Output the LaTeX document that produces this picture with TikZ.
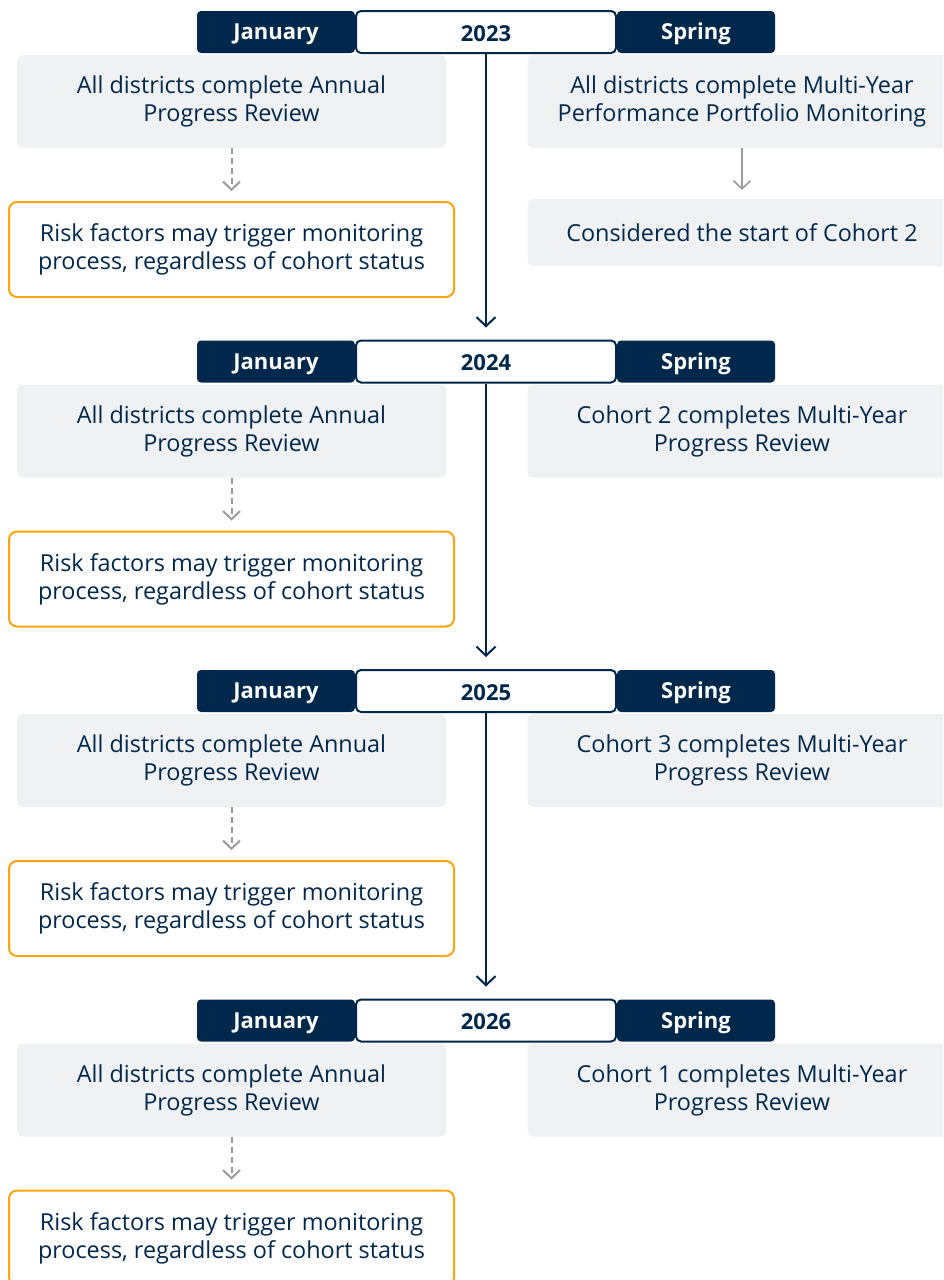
\documentclass[tikz,border=0pt]{standalone}
\usepackage{fontspec}
\setmainfont{Open Sans}
\usetikzlibrary{arrows.meta}
\definecolor{navy}{HTML}{00284C}
\definecolor{panelgray}{HTML}{F0F1F3}
\definecolor{amber}{HTML}{FFA30F}
\definecolor{arrowgray}{HTML}{9A9A9A}
\newcommand\boxfont{\fontsize{23.4}{28}\selectfont}
\newcommand\headfont{\fontsize{22}{26}\selectfont\bfseries}

\tikzset{
  monthbox/.style={fill=navy, text=white, rounded corners=4, minimum width=158, minimum height=42, inner sep=0, text height=16.5, text depth=0.6, font=\headfont},
  yearbox/.style={draw=navy, line width=2, fill=white, rounded corners=5, minimum width=260, minimum height=42, inner sep=0, text height=19.5, text depth=0.6, font=\headfont},
  panel/.style={fill=panelgray, rounded corners=6, minimum width=429, minimum height=93, inner sep=0, align=center},
  riskbox/.style={draw=amber, line width=2, fill=white, rounded corners=8, minimum width=445, minimum height=95, inner sep=0, align=center},
  dasharrow/.style={arrowgray, line width=2, dash pattern=on 6 off 4, -{Straight Barb[length=8pt, width=17pt]}, shorten >=10},
  grayarrow/.style={arrowgray, line width=1.6, -{Straight Barb[length=8pt, width=17pt]}, shorten >=9},
  mainarrow/.style={navy, line width=2, -{Straight Barb[length=9pt, width=19pt]}, shorten >=12}
}

\begin{document}
\begin{tikzpicture}[x=1pt, y=-1pt, font=\boxfont, text=navy]
\useasboundingbox (0,0) rectangle (943,1280);
\clip (0,0) rectangle (943,1280);

% one row per year
\foreach \yr/\yc/\note in {
    2023/32/{All districts complete Multi-Year\\Performance Portfolio Monitoring},
    2024/361.5/{Cohort 2 completes Multi-Year\\Progress Review},
    2025/691/{Cohort 3 completes Multi-Year\\Progress Review},
    2026/1020.5/{Cohort 1 completes Multi-Year\\Progress Review}}{
  \node[monthbox] (jan\yr) at (276,\yc) {January};
  \node[monthbox] (spr\yr) at (696,\yc) {Spring};
  \node[yearbox] (y\yr) at (486,\yc) {\yr};
  \node[panel] (ann\yr) at (231.5,\yc+69.5) {All districts complete Annual\\Progress Review};
  \node[panel] (coh\yr) at (742,\yc+69.5) {\note};
  \node[riskbox] (risk\yr) at (231.5,\yc+217.5) {Risk factors may trigger monitoring\\process, regardless of cohort status};
  \draw[dasharrow] (ann\yr) -- (risk\yr);
}

\node[panel, minimum height=67] (start) at (742,232.5) {Considered the start of Cohort 2};
\draw[grayarrow] (coh2023) -- (start);

% timeline
\foreach \a/\b in {2023/2024, 2024/2025, 2025/2026}
  \draw[mainarrow] (y\a) -- (y\b);
\end{tikzpicture}
\end{document}
